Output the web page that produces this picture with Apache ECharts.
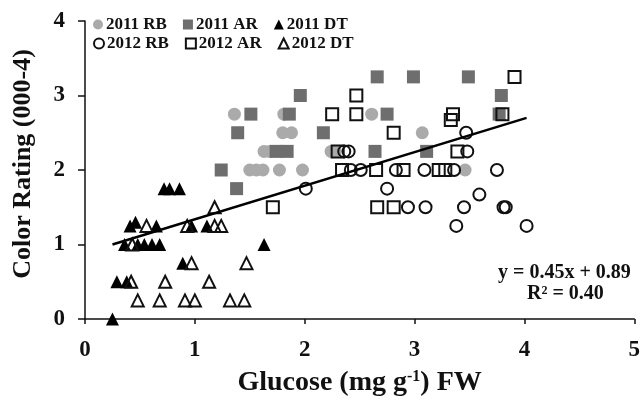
<!DOCTYPE html>
<html>
<head>
<meta charset="utf-8">
<script src="https://cdn.jsdelivr.net/npm/echarts@6/dist/echarts.min.js"></script>
<style>
  html, body { margin: 0; padding: 0; background: #fff; }
  #chart { width: 643px; height: 402px; }
</style>
</head>
<body>
<div id="chart"></div>
<script>
// points: [glucose, color rating]
const rb2011 = [
  [1.36, 2.75], [1.81, 2.75], [2.61, 2.75], [1.80, 2.5], [1.88, 2.5], [3.07, 2.5],
  [1.63, 2.25], [1.68, 2.25], [2.24, 2.25], [2.28, 2.25],
  [1.50, 2.0], [1.56, 2.0], [1.62, 2.0], [1.77, 2.0], [1.98, 2.0], [3.46, 2.0]
]
const ar2011 = [
  [1.51, 2.75], [1.96, 3.0], [2.66, 3.25], [2.99, 3.25], [3.49, 3.25], [3.79, 3.0],
  [3.77, 2.75], [1.86, 2.75], [2.75, 2.75], [1.39, 2.5], [2.17, 2.5], [1.24, 2.0],
  [1.38, 1.75], [1.74, 2.25], [1.84, 2.25], [2.64, 2.25], [3.11, 2.25]
]
const dt2011 = [
  [0.72, 1.75], [0.77, 1.75], [0.86, 1.75], [0.41, 1.25], [0.46, 1.3], [0.65, 1.25],
  [0.97, 1.25], [1.11, 1.25], [0.36, 1.0], [0.48, 1.0], [0.54, 1.0], [0.61, 1.0],
  [0.68, 1.0], [1.63, 1.0], [0.89, 0.75], [0.29, 0.5], [0.38, 0.5], [0.25, 0]
]
const rb2012 = [
  [2.01, 1.75], [2.36, 2.25], [2.40, 2.25], [2.42, 2.0], [2.51, 2.0], [2.83, 2.0],
  [3.09, 2.0], [2.75, 1.75], [2.94, 1.5], [3.10, 1.5], [3.47, 2.5], [3.48, 2.25],
  [3.36, 2.0], [3.75, 2.0], [3.59, 1.67], [3.45, 1.5], [3.81, 1.5], [3.83, 1.5],
  [3.38, 1.25], [4.02, 1.25]
]
const ar2012 = [
  [2.47, 3.0], [2.25, 2.75], [2.47, 2.75], [2.81, 2.5], [2.30, 2.25], [2.34, 2.0],
  [2.65, 2.0], [2.90, 2.0], [1.71, 1.5], [2.66, 1.5], [2.81, 1.5], [3.91, 3.25],
  [3.35, 2.75], [3.33, 2.67], [3.80, 2.75], [3.39, 2.25], [3.22, 2.0], [3.28, 2.0]
]
const dt2012 = [
  [1.18, 1.5], [0.56, 1.25], [0.93, 1.25], [1.18, 1.25], [1.24, 1.25], [0.43, 1.0],
  [0.97, 0.75], [1.47, 0.75], [0.42, 0.5], [0.73, 0.5], [1.13, 0.5], [0.48, 0.25],
  [0.68, 0.25], [0.91, 0.25], [1.00, 0.25], [1.32, 0.25], [1.45, 0.25]
]
// trend line end points
const fitLine = [[0.25, 1.0], [4.02, 2.7]]
const equation = ['y = 0.45x + 0.89', 'R² = 0.40']

const serif = 'Liberation Serif'
const chart = echarts.init(document.getElementById('chart'))

const filled = (name, data, symbol, color, size) => ({
  name, type: 'scatter', data, symbol, symbolSize: size,
  itemStyle: { color, opacity: 1 }
})
const open = (name, data, symbol, size) => ({
  name, type: 'scatter', data, symbol, symbolSize: size,
  itemStyle: { color: 'rgba(255,255,255,0)', borderColor: '#111', borderWidth: 2, opacity: 1 }
})

const legendBase = {
  left: 88,
  itemWidth: 10,
  itemHeight: 10,
  itemGap: 16,
  textStyle: { fontFamily: serif, fontWeight: 'bold', fontSize: 17, color: '#111', padding: [0, 0, 0, -2] }
}

chart.setOption({
  animation: false,
  grid: { left: 85, right: 7, top: 21, bottom: 80 },
  legend: [
    Object.assign({ top: 11, data: ['2011 RB', '2011 AR', '2011 DT'] }, legendBase),
    Object.assign({ top: 30, data: ['2012 RB', '2012 AR', '2012 DT'] }, legendBase)
  ],
  xAxis: {
    type: 'value', min: 0, max: 5, interval: 1,
    splitLine: { show: false },
    axisLine: { lineStyle: { color: '#111', width: 1.5 } },
    axisTick: { length: 5, lineStyle: { color: '#111', width: 1.5 } },
    axisLabel: { fontFamily: serif, fontWeight: 'bold', fontSize: 23, color: '#111', margin: 20 },
    name: '{a|Glucose (mg g}{s|-1}{a|) FW}',
    nameLocation: 'middle', nameGap: 50,
    nameTextStyle: {
      rich: {
        a: { fontFamily: serif, fontWeight: 'bold', fontSize: 28, color: '#111' },
        s: { fontFamily: serif, fontWeight: 'bold', fontSize: 16, color: '#111', verticalAlign: 'top', padding: [0, 0, 12, 0] }
      }
    }
  },
  yAxis: {
    type: 'value', min: 0, max: 4, interval: 1,
    splitLine: { show: false },
    axisLine: { show: true, lineStyle: { color: '#111', width: 1.5 } },
    axisTick: { show: true, length: 7, lineStyle: { color: '#111', width: 1.5 } },
    axisLabel: { fontFamily: serif, fontWeight: 'bold', fontSize: 23, color: '#111', margin: 20 },
    name: 'Color Rating (000-4)',
    nameLocation: 'middle', nameGap: 49, nameRotate: 90,
    nameTextStyle: { fontFamily: serif, fontWeight: 'bold', fontSize: 26, color: '#111', padding: [0, 0, 0, 12] }
  },
  graphic: [
    { type: 'text', left: 498, top: 263, style: { text: equation[0], font: 'bold 20px "Liberation Serif"', fill: '#111' } },
    { type: 'text', left: 527, top: 284, style: { text: equation[1], font: 'bold 20px "Liberation Serif"', fill: '#111' } }
  ],
  series: [
    filled('2011 RB', rb2011, 'circle', '#aaaaaa', 13),
    filled('2011 AR', ar2011, 'rect', '#6e6e6e', 13),
    filled('2011 DT', dt2011, 'triangle', '#000', 13),
    open('2012 RB', rb2012, 'circle', 12),
    open('2012 AR', ar2012, 'rect', 12),
    open('2012 DT', dt2012, 'triangle', 12),
    {
      type: 'line', data: fitLine, symbol: 'none', z: 10,
      lineStyle: { color: '#000', width: 2.5 }
    }
  ]
})
</script>
</body>
</html>
